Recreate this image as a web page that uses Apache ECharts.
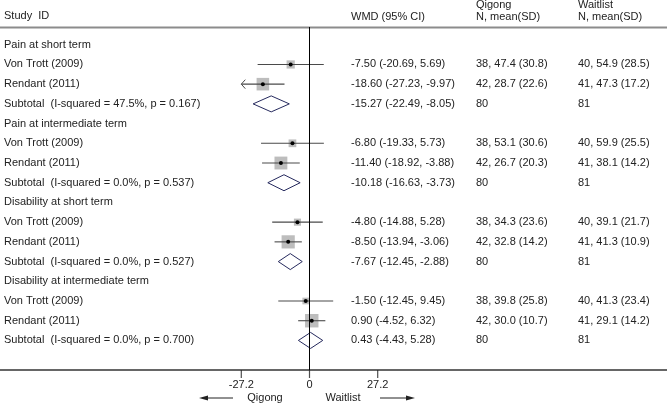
<!DOCTYPE html>
<html>
<head>
<meta charset="utf-8">
<script src="https://cdn.jsdelivr.net/npm/echarts@6/dist/echarts.min.js"></script>
<style>html,body{margin:0;padding:0;background:#fff;}</style>
</head>
<body>
<div id="main" style="width:667px;height:404px;"></div>
<script>
// data
var groups = ['Pain at short term', 'Pain at intermediate term', 'Disability at short term', 'Disability at intermediate term']
var studies = ['Von Trott (2009)', 'Rendant (2011)']
var heterogeneity = ['47.5%, p = 0.167', '0.0%, p = 0.537', '0.0%, p = 0.527', '0.0%, p = 0.700']
var wmd = [-7.50, -18.60, -15.27, -6.80, -11.40, -10.18, -4.80, -8.50, -7.67, -1.50, 0.90, 0.43]
var lower = [-20.69, -27.23, -22.49, -19.33, -18.92, -16.63, -14.88, -13.94, -12.45, -12.45, -4.52, -4.43]
var upper = [5.69, -9.97, -8.05, 5.73, -3.88, -3.73, 5.28, -3.06, -2.88, 9.45, 6.32, 5.28]
var weights = [30.0, 70.0, 0, 26.5, 73.5, 0, 22.6, 77.4, 0, 19.8, 80.2, 0]
var qigong = ['38, 47.4 (30.8)', '42, 28.7 (22.6)', '80', '38, 53.1 (30.6)', '42, 26.7 (20.3)', '80',
    '38, 34.3 (23.6)', '42, 32.8 (14.2)', '80', '38, 39.8 (25.8)', '42, 30.0 (10.7)', '80']
var waitlist = ['40, 54.9 (28.5)', '41, 47.3 (17.2)', '81', '40, 59.9 (25.5)', '41, 38.1 (14.2)', '81',
    '40, 39.1 (21.7)', '41, 41.3 (10.9)', '81', '40, 41.3 (23.4)', '41, 29.1 (14.2)', '81']
var tickValues = [-27.2, 0, 27.2]

var XMIN = tickValues[0], XMAX = tickValues[2]
var YMIN = -0.9, YMAX = 16.5
var FONT = '"Liberation Sans", Arial, sans-serif'
var TXT = '#222'
var colX = [4, 351, 476, 578]

// build rows: group title, two studies, subtotal
var rows = []
var forest = []
groups.forEach(function (g, gi) {
    rows.push({ row: rows.length, label: g })
    for (var k = 0; k < 3; k++) {
        var i = gi * 3 + k
        var sub = k === 2
        var r = rows.length
        rows.push({
            row: r,
            label: sub ? 'Subtotal  (I-squared = ' + heterogeneity[gi] + ')' : studies[k],
            ci: wmd[i].toFixed(2) + ' (' + lower[i].toFixed(2) + ', ' + upper[i].toFixed(2) + ')',
            q: qigong[i],
            w: waitlist[i]
        })
        forest.push([wmd[i], r, lower[i], upper[i], weights[i], sub ? 1 : 0])
    }
})

function renderForest (params, api) {
    var x = api.value(0), y = api.value(1)
    var lo = api.value(2), hi = api.value(3), w = api.value(4), sub = api.value(5)
    var c = api.coord([x, y])
    var cl = api.coord([Math.max(lo, XMIN), y])
    var ch = api.coord([Math.min(hi, XMAX), y])
    if (sub) {
        var h = 8
        return {
            type: 'polygon',
            shape: { points: [[cl[0], c[1]], [c[0], c[1] - h], [ch[0], c[1]], [c[0], c[1] + h]] },
            style: { fill: '#fff', stroke: '#262a5e', lineWidth: 1 }
        }
    }
    var s = 1.5 * Math.sqrt(w)
    var children = [
        { type: 'rect', shape: { x: c[0] - s / 2, y: c[1] - s / 2, width: s, height: s }, style: { fill: '#bdbdbd' } },
        { type: 'line', shape: { x1: cl[0], y1: c[1], x2: ch[0], y2: c[1] }, style: { stroke: '#4a4a4a', lineWidth: 1.1 } },
        { type: 'circle', shape: { cx: c[0], cy: c[1], r: 2 }, style: { fill: '#000' } }
    ]
    if (lo < XMIN) {
        children.push({
            type: 'polyline',
            shape: { points: [[cl[0] + 4, c[1] - 4.5], [cl[0], c[1]], [cl[0] + 4, c[1] + 4.5]] },
            style: { stroke: '#4a4a4a', lineWidth: 1, fill: null }
        })
    }
    return { type: 'group', children: children }
}

function renderText (params, api) {
    var d = rows[params.dataIndex]
    var vals = [d.label, d.ci, d.q, d.w]
    var children = []
    vals.forEach(function (t, j) {
        if (t === undefined) return
        var p = api.coord([colX[j], d.row])
        children.push({
            type: 'text', x: p[0], y: p[1],
            style: { text: t, fill: TXT, fontSize: 11, fontFamily: FONT, align: 'left', verticalAlign: 'middle' }
        })
    })
    return { type: 'group', children: children }
}

function headText (t, x, y) {
    return { type: 'text', x: x, y: y, style: { text: t, fill: TXT, fontSize: 11, fontFamily: FONT, verticalAlign: 'middle' } }
}

var option = {
    backgroundColor: '#ffffff',
    animation: false,
    grid: [
        { left: 241.3, width: 136.4, top: 27, bottom: 34 },
        { left: 0, right: 0, top: 27, bottom: 34 }
    ],
    xAxis: [
        {
            type: 'value', gridIndex: 0, min: XMIN, max: XMAX, interval: XMAX,
            splitLine: { show: false },
            axisLine: { show: false, onZero: false },
            axisTick: { show: false },
            axisLabel: {
                color: TXT, fontSize: 11, fontFamily: FONT, margin: 9,
                formatter: function (v) { return v === 0 ? '0' : String(+v.toFixed(1)) }
            }
        },
        {
            type: 'value', gridIndex: 1, min: 0, max: 667,
            splitLine: { show: false },
            axisTick: { show: false },
            axisLabel: { show: false },
            axisLine: { show: true, onZero: false, lineStyle: { color: '#333', width: 1.5 } }
        }
    ],
    yAxis: [
        { type: 'value', gridIndex: 0, inverse: true, min: YMIN, max: YMAX, show: false },
        { type: 'value', gridIndex: 1, inverse: true, min: YMIN, max: YMAX, show: false }
    ],
    graphic: [
        { type: 'line', shape: { x1: 0, y1: 27.5, x2: 667, y2: 27.5 }, style: { stroke: '#8c8c8c', lineWidth: 2 } },
        headText('Study  ID', 4, 16),
        headText('WMD (95% CI)', 351, 17),
        headText('Qigong', 476, 5),
        headText('N, mean(SD)', 476, 17),
        headText('Waitlist', 578, 5),
        headText('N, mean(SD)', 578, 17),
        { type: 'text', x: 265, y: 398, style: { text: 'Qigong', fill: TXT, fontSize: 11, fontFamily: FONT, align: 'center', verticalAlign: 'middle' } },
        { type: 'text', x: 343, y: 398, style: { text: 'Waitlist', fill: TXT, fontSize: 11, fontFamily: FONT, align: 'center', verticalAlign: 'middle' } },
        { type: 'line', shape: { x1: 205, y1: 398, x2: 233, y2: 398 }, style: { stroke: '#222', lineWidth: 1 } },
        { type: 'polygon', shape: { points: [[199, 398], [208, 395.5], [208, 400.5]] }, style: { fill: '#222' } },
        { type: 'line', shape: { x1: 380, y1: 398, x2: 409, y2: 398 }, style: { stroke: '#222', lineWidth: 1 } },
        { type: 'polygon', shape: { points: [[415, 398], [406, 395.5], [406, 400.5]] }, style: { fill: '#222' } }
    ],
    series: [
        {
            type: 'custom', xAxisIndex: 0, yAxisIndex: 0,
            renderItem: renderForest,
            encode: { x: 0, y: 1 },
            data: forest,
            silent: true,
            markLine: {
                silent: true, symbol: 'none', label: { show: false },
                lineStyle: { color: '#000', width: 1, type: 'solid' },
                data: [{ xAxis: 0 }]
            }
        },
        {
            // axis ticks hanging below the bottom rule
            type: 'scatter', xAxisIndex: 0, yAxisIndex: 0,
            symbol: 'rect', symbolSize: [1.2, 8], symbolOffset: [0, 4],
            itemStyle: { color: '#222' },
            data: tickValues.map(function (v) { return [v, YMAX] }),
            silent: true,
            clip: false,
            z: 10
        },
        {
            type: 'custom', xAxisIndex: 1, yAxisIndex: 1,
            renderItem: renderText,
            encode: { x: 0, y: 1 },
            data: rows.map(function (d) { return [colX[0], d.row] }),
            silent: true
        }
    ]
}

var myChart = echarts.init(document.getElementById('main'))
myChart.setOption(option)
</script>
</body>
</html>
